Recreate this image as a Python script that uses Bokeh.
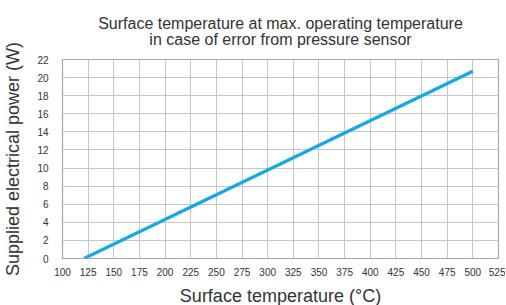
from bokeh.plotting import figure
from bokeh.models import Range1d, FixedTicker, Label
from bokeh.embed import file_html
from bokeh.resources import INLINE

# Data
temps = [121, 500]
power = [0, 20.7]
x_ticks = [100, 125, 150, 175, 200, 225, 250, 275, 300, 325, 350, 375, 400, 425, 450, 475, 500, 525]
y_ticks = [0, 2, 4, 6, 8, 10, 12, 14, 16, 18, 20, 22]
title_line1 = "Surface temperature at max. operating temperature"
title_line2 = "in case of error from pressure sensor"
x_label = "Surface temperature (°C)"
y_label = "Supplied electrical power (W)"

FONT = "Liberation Sans"
TXT = "#333333"
FW, FH = 436, 199

p = figure(frame_width=FW, frame_height=FH,
           x_range=Range1d(100, 525), y_range=Range1d(0, 22),
           output_backend="svg", toolbar_location=None,
           min_border_left=55, min_border_right=7, min_border_top=59, min_border_bottom=46)

# two centred title lines in panels above the frame (first added = nearest the frame)
for txt, dy in ((title_line2, 20), (title_line1, 19)):
    p.add_layout(Label(x=FW / 2, y=dy, x_units="screen", y_units="screen",
                       text=txt, text_font=FONT, text_font_size="16px",
                       text_color=TXT, text_align="center",
                       text_baseline="alphabetic"), "above")

p.line(temps, power, line_color="#12a9e8", line_width=3.2)

for ax in (p.xaxis, p.yaxis):
    ax.axis_line_color = None
    ax.major_tick_line_color = None
    ax.minor_tick_line_color = None
    ax.major_label_text_font = FONT
    ax.major_label_text_font_size = "10px"
    ax.major_label_text_color = TXT
    ax.axis_label_text_font = FONT
    ax.axis_label_text_font_size = "18px"
    ax.axis_label_text_font_style = "normal"
    ax.axis_label_text_color = TXT

p.xaxis.ticker = FixedTicker(ticks=x_ticks)
p.yaxis.ticker = FixedTicker(ticks=y_ticks)
p.xgrid.ticker = FixedTicker(ticks=x_ticks)
p.ygrid.ticker = FixedTicker(ticks=y_ticks)
p.xaxis.axis_label = x_label
p.yaxis.axis_label = y_label
p.xaxis.major_label_standoff = 3
p.yaxis.major_label_standoff = 8
p.xaxis.axis_label_standoff = 7
p.yaxis.axis_label_standoff = 11

p.grid.grid_line_color = "#c6c6c6"
p.grid.grid_line_width = 1
p.outline_line_color = "#a8a8a8"
p.outline_line_width = 1.2
p.background_fill_color = "white"
p.border_fill_color = "white"

open("out.html", "w").write(file_html(p, INLINE))
